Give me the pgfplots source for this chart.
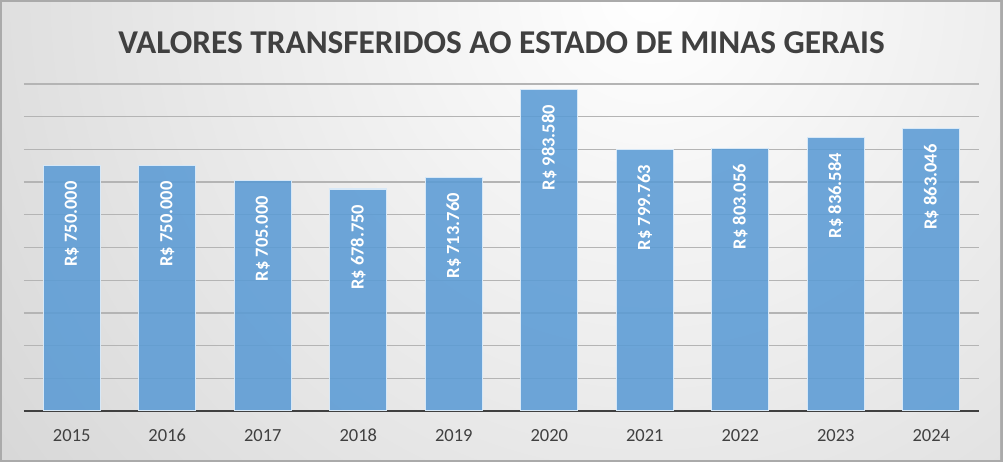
\documentclass[border=0pt]{standalone}
\usepackage{fontspec}
\setmainfont{Carlito}
\usepackage{pgfplots}
\pgfplotsset{compat=1.18}

\definecolor{barblue}{RGB}{91,155,213}
\definecolor{baredge}{RGB}{215,232,247}
\definecolor{txtgray}{RGB}{64,64,64}
\definecolor{gridgray}{RGB}{180,180,180}
\definecolor{bggray}{RGB}{196,196,196}
\definecolor{framegray}{RGB}{170,170,170}

\begin{document}
\begin{tikzpicture}[x=1pt,y=1pt]
% fundo com degradê
\fill[framegray] (0,0) rectangle (1003,462);
\begin{scope}
  \clip (2,2) rectangle (1000,459);
  \shade[inner color=white, outer color=bggray] (650,470) circle (1200);
\end{scope}

\node[font=\bfseries\fontsize{33.3}{38}\selectfont, text=txtgray] at (501.5,419.5)
  {VALORES TRANSFERIDOS AO ESTADO DE MINAS GERAIS};

\begin{axis}[
    at={(24pt,51pt)}, anchor=south west,
    scale only axis,
    width=955pt, height=327pt,
    ybar, bar width=57pt,
    xmin=-0.5, xmax=9.5,
    ymin=0, ymax=1000000,
    ytick distance=100000,
    scaled y ticks=false,
    yticklabels={},
    ymajorgrids,
    grid style={gridgray, line width=1.3pt},
    axis x line*=bottom,
    axis y line*=left,
    x axis line style={txtgray, line width=2.8pt, -},
    y axis line style={draw=none},
    xtick=data,
    xticklabels={2015,2016,2017,2018,2019,2020,2021,2022,2023,2024},
    major tick length=0pt,
    xticklabel style={font=\fontsize{18.5}{22}\selectfont, text=txtgray, anchor=base, yshift=-31pt},
    /pgf/number format/assume math mode=true,
    nodes near coords={R\$ \pgfmathprintnumber[fixed, precision=0, 1000 sep={.}]{\pgfplotspointmeta}},
    every node near coord/.append style={font=\bfseries\fontsize{18.5}{22}\selectfont, text=white,
      rotate=90, anchor=east, inner xsep=15pt},
  ]
  \addplot[fill=barblue, fill opacity=0.88, text opacity=1, draw=baredge, line width=1.2pt]
    coordinates {(0,750000) (1,750000) (2,705000) (3,678750) (4,713760)
                 (5,983580) (6,799763) (7,803056) (8,836584) (9,863046)};
\end{axis}
\end{tikzpicture}
\end{document}
